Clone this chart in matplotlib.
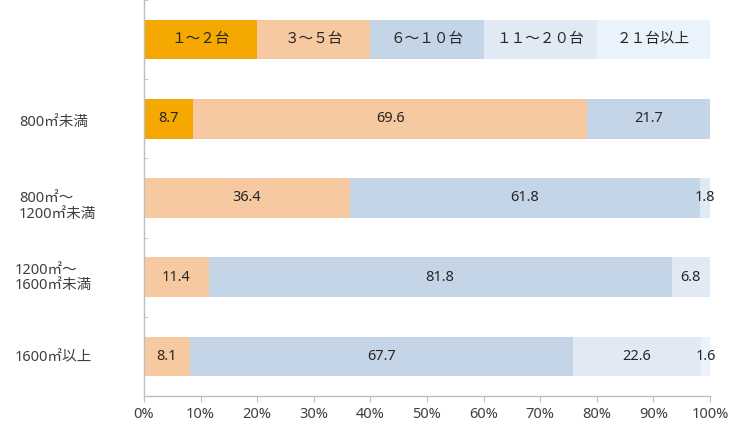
import matplotlib
matplotlib.use("Agg")
import matplotlib.pyplot as plt
import matplotlib.transforms as mtransforms
import numpy as np

plt.rcParams['font.family'] = ['Noto Sans', 'Noto Sans CJK JP', 'DejaVu Sans']

categories = ["", "800㎡未満", "800㎡～\n1200㎡未満", "1200㎡～\n1600㎡未満", "1600㎡以上"]
series_names = ["１～２台", "３～５台", "６～１０台", "１１～２０台", "２１台以上"]
# rows: legend row, then data rows
s1 = [20, 8.7, 0, 0, 0]
s2 = [20, 69.6, 36.4, 11.4, 8.1]
s3 = [20, 21.7, 61.8, 81.8, 67.7]
s4 = [20, 0, 1.8, 6.8, 22.6]
s5 = [20, 0, 0, 0, 1.6]
series = [s1, s2, s3, s4, s5]
colors = ["#F5A800", "#F7C9A0", "#C4D5E7", "#E1E9F4", "#EAF2FC"]
xticks = [0, 10, 20, 30, 40, 50, 60, 70, 80, 90, 100]
xticklabels = ["0%", "10%", "20%", "30%", "40%", "50%", "60%", "70%", "80%", "90%", "100%"]

FS = 10.5
fig = plt.figure(figsize=(7.37, 4.24), dpi=100)
ax = fig.add_axes([144/737, 1-396/424, 566/737, 396/424])

y = np.arange(len(categories))
left = np.zeros(len(categories))
for i, (vals, c) in enumerate(zip(series, colors)):
    vals = np.array(vals, dtype=float)
    ax.barh(y, vals, left=left, height=0.5, color=c, edgecolor='none')
    for j in range(len(categories)):
        if vals[j] > 0:
            if j == 0:
                txt = series_names[i]
            else:
                txt = f"{vals[j]:.1f}"
            ax.text(left[j] + vals[j]/2, y[j], txt, ha='center', va='center',
                    fontsize=FS, color='#262626')
    left += vals

ax.set_xlim(0, 100)
ax.set_ylim(4.5, -0.5)
ax.set_xticks(xticks)
ax.set_xticklabels(xticklabels, fontsize=FS, color='#404040')
ax.set_yticks(y)
ax.set_yticklabels([])
ax.tick_params(axis='y', which='major', length=0)
ax.set_yticks(np.arange(-0.5, 5, 1), minor=True)
ax.tick_params(axis='y', which='minor', length=3, direction='in', color='#BFBFBF')
ax.tick_params(axis='x', length=4, direction='out', color='#BFBFBF', pad=4)

# category labels (left aligned, positioned in pixels)
label_x_px = [19, 19, 19, 15, 15]
label_dy_px = [0, 4, 8.5, 1, 1]
blend = mtransforms.blended_transform_factory(fig.transFigure, ax.transData)
for j, lab in enumerate(categories):
    if not lab:
        continue
    tr = mtransforms.offset_copy(blend, fig=fig, x=0, y=-label_dy_px[j] * 72 / 100, units='points')
    ax.text(label_x_px[j] / 737, y[j], lab, transform=tr, ha='left', va='center',
            fontsize=FS, color='#404040', linespacing=1.05, clip_on=False)

for s in ['top', 'right']:
    ax.spines[s].set_visible(False)
for s in ['left', 'bottom']:
    ax.spines[s].set_color('#BFBFBF')
    ax.spines[s].set_linewidth(1)

fig.savefig("out.png", dpi=100)
